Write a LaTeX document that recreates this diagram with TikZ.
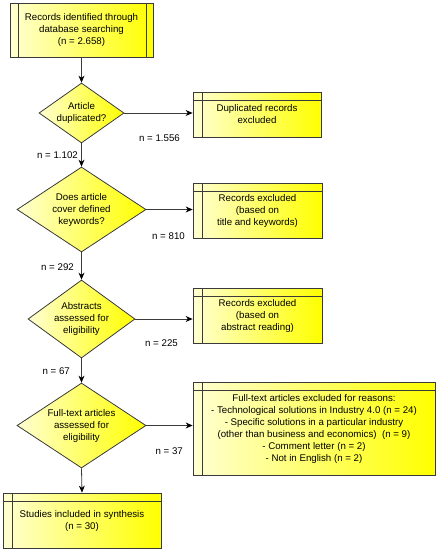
\documentclass[tikz,border=0pt]{standalone}
\usepackage{fontspec}
\setmainfont{Liberation Sans}
\usetikzlibrary{shapes.geometric,arrows.meta,shadings}
\definecolor{edge}{HTML}{3A3A3A}
\definecolor{paleY}{HTML}{FFFFD2}
\definecolor{fullY}{HTML}{FFFF00}
\tikzset{
  base/.style={font=\fontsize{9.7}{12}\selectfont, align=center, inner sep=0pt},
  fillY/.style={draw=edge, line width=0.8pt, left color=paleY, right color=fullY},
  boxA/.style={base, fillY, rectangle,
    path picture={\draw[edge, line width=0.7pt]
      ([xshift=8pt]path picture bounding box.north west) -- ([xshift=8pt]path picture bounding box.south west)
      ([xshift=-7pt]path picture bounding box.north east) -- ([xshift=-7pt]path picture bounding box.south east);}},
  boxB/.style={base, fillY, rectangle,
    path picture={\draw[edge, line width=0.7pt]
      ([xshift=9pt]path picture bounding box.north west) -- ([xshift=9pt]path picture bounding box.south west)
      ([yshift=-8.5pt]path picture bounding box.north west) -- ([yshift=-8.5pt]path picture bounding box.north east);}},
  decision/.style={fillY, diamond, inner sep=0pt},
  dtext/.style={base},
  nlabel/.style={base, anchor=east},
  arr/.style={draw=edge, line width=0.8pt, -{Stealth[length=7pt,width=6pt,color=black]}}
}
\begin{document}
\begin{tikzpicture}[x=1pt,y=-1pt]
\useasboundingbox (0,0) rectangle (438,550);

\node[boxA, minimum width=143pt, minimum height=54pt] (top) at (81.5,30)
  {Records identified through\\database searching\\(n = 2.658)};

\node[decision, minimum width=85pt, minimum height=60pt] (d1) at (81.5,113) {};
\node[dtext] (d1t) at (d1) {Article\\duplicated?};

\node[decision, minimum width=129pt, minimum height=85pt] (d2) at (81.5,209.5) {};
\node[dtext] (d2t) at (d2) {Does article\\cover defined\\keywords?};

\node[decision, minimum width=107pt, minimum height=78pt] (d3) at (81.5,319) {};
\node[dtext] (d3t) at (d3) {Abstracts\\assessed for\\eligibility};

\node[decision, minimum width=129pt, minimum height=85pt] (d4) at (81.5,425.5) {};
\node[dtext] (d4t) at (d4) {Full-text articles\\assessed for\\eligibility};

\node[boxB, minimum width=128pt, minimum height=45pt] (b2) at (257,114.5)
  {Duplicated records\\excluded};
\node[boxB, minimum width=129pt, minimum height=55pt] (b3) at (257.5,210.5)
  {Records excluded\\(based on\\title and keywords)};
\node[boxB, minimum width=129pt, minimum height=55pt] (b4) at (257.5,315.5)
  {Records excluded\\(based on\\abstract reading)};
\node[boxB, minimum width=242pt, minimum height=93pt] (b5) at (314,428.5)
  {Full-text articles excluded for reasons:\\
   - Technological solutions in Industry 4.0 (n = 24)\\
   - Specific solutions in a particular industry\\
   (other than business and economics)~ (n = 9)\\
   - Comment letter (n = 2)\\
   - Not in English (n = 2)};
\node[boxB, minimum width=158pt, minimum height=55pt] (b6) at (82,520.5)
  {Studies included in synthesis\\(n = 30)};

\draw[arr] (top.south) -- (d1.north);
\draw[arr] (d1.south) -- (d2.north);
\draw[arr] (d2.south) -- (d3.north);
\draw[arr] (d3.south) -- (d4.north);
\draw[arr] (d4.south) -- (b6.north);

\draw[arr] (d1.east) -- (d1.east -| b2.west);
\draw[arr] (d2.east) -- (d2.east -| b3.west);
\draw[arr] (d3.east) -- (d3.east -| b4.west);
\draw[arr] (d4.east) -- (d4.east -| b5.west);

\node[nlabel] (l1) at (180,138) {n = 1.556};
\node[nlabel] (l2) at (78,155) {n = 1.102};
\node[nlabel] (l3) at (185,236) {n = 810};
\node[nlabel] (l4) at (74,267) {n = 292};
\node[nlabel] (l5) at (178,343) {n = 225};
\node[nlabel] (l6) at (70,371) {n = 67};
\node[nlabel] (l7) at (183,451) {n = 37};
\end{tikzpicture}
\end{document}
